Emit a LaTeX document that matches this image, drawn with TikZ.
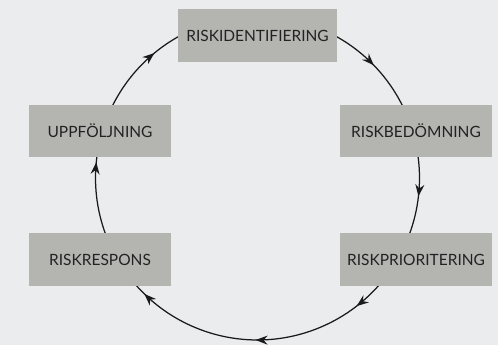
\documentclass[tikz,border=0pt]{standalone}
\usepackage{fontspec}
\setmainfont{Lato}
\usetikzlibrary{arrows.meta,decorations.markings}
\definecolor{paper}{HTML}{EBECEE}
\definecolor{boxgrey}{HTML}{B4B5B1}
\definecolor{ink}{HTML}{1A1A1A}
\definecolor{label}{HTML}{222222}
\tikzset{
  cyclehead/.tip={Stealth[length=12pt,width=9pt,inset=4pt]},
  stage/.style={fill=boxgrey, minimum height=52.5pt, inner sep=0pt,
    text=label, font=\fontsize{15.5}{18}\selectfont},
  ring/.style={draw=ink, line width=1.25pt},
  tip at/.style={postaction={decorate, decoration={markings,
    mark=at position #1 with {\arrow{cyclehead}}}}}
}
\begin{document}
\begin{tikzpicture}[x=1pt,y=1pt]
  \useasboundingbox (0,0) rectangle (498,345);
  \fill[paper] (0,0) rectangle (498,345);

  % centre of the risk cycle
  \coordinate (hub) at (257.5,167);

  % arcs of the cycle, running clockwise
  \draw[ring, tip at=0.49] (hub) ++(61.5:162pt)
    arc[start angle=61.5, end angle=26, radius=162pt];
  \draw[ring, tip at=0.51] (hub) ++(8:162pt)
    arc[start angle=8, end angle=-20.5, radius=162pt];
  \draw[ring, tip at=0.115, tip at=0.507, tip at=0.952] (hub) ++(-41:162pt)
    arc[start angle=-41, end angle=-139, radius=162pt];
  \draw[ring, tip at=0.915] (hub) ++(200.5:162pt)
    arc[start angle=200.5, end angle=172, radius=162pt];
  \draw[ring, tip at=0.69] (hub) ++(154:162pt)
    arc[start angle=154, end angle=118.5, radius=162pt];

  % stages
  \node[stage, minimum width=159pt] (ident) at (257.5,309.5) {RISKIDENTIFIERING};
  \node[stage, minimum width=152pt] (bed)   at (416,214)     {RISKBEDÖMNING};
  \node[stage, minimum width=152pt] (prio)  at (416,85.5)    {RISKPRIORITERING};
  \node[stage, minimum width=142pt] (resp)  at (100,85.5)    {RISKRESPONS};
  \node[stage, minimum width=142pt] (uppf)  at (100,214)     {UPPFÖLJNING};
\end{tikzpicture}
\end{document}
